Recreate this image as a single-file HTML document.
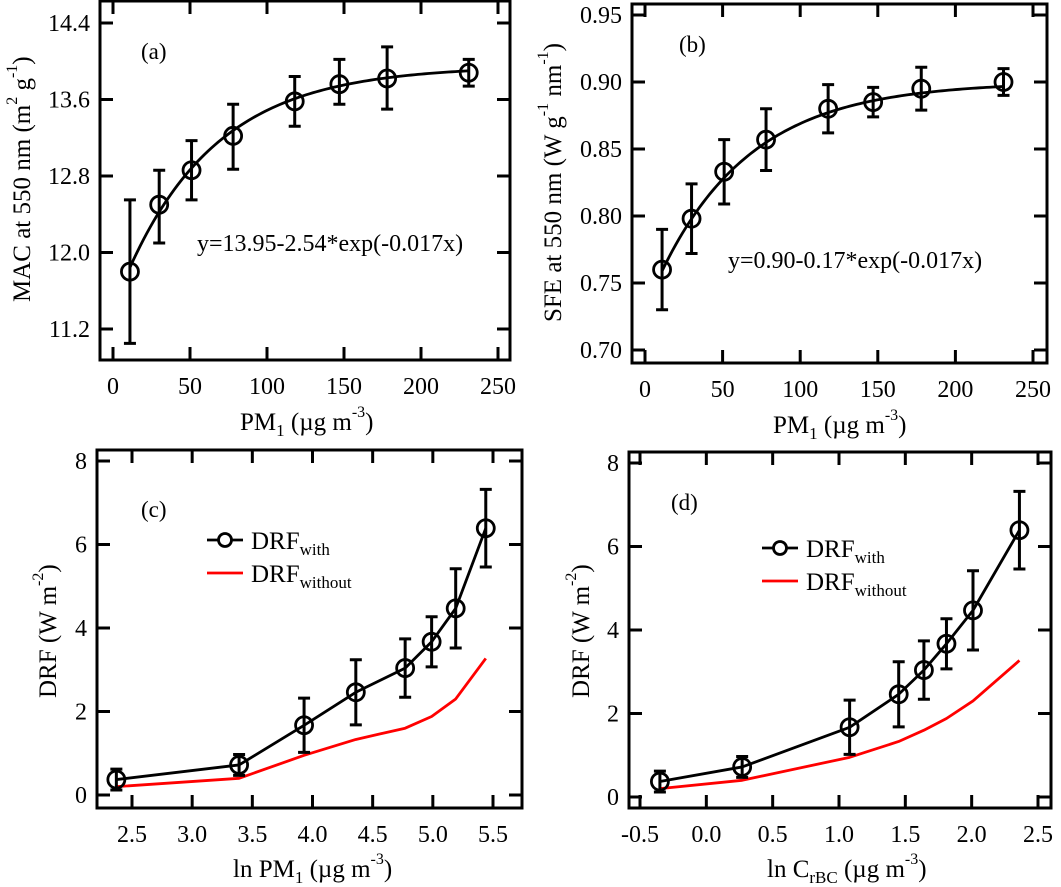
<!DOCTYPE html>
<html><head><meta charset="utf-8"><style>
html,body{margin:0;padding:0;background:#fff}
svg{display:block;font-family:"Liberation Serif",serif}
</style></head><body>
<svg id="fig" width="1061" height="887" viewBox="0 0 1061 887"></svg>
<script>
// Panel (a)
const aX=[11,30,51,78,118,147,178,231];
const aY=[11.80,12.50,12.86,13.22,13.58,13.76,13.82,13.88];
const aHi=[12.55,12.86,13.17,13.55,13.84,14.02,14.15,14.02];
const aLo=[11.05,12.10,12.55,12.87,13.32,13.55,13.50,13.74];
const aFit=[13.95,2.54,0.017];
const aXTicks=[0,50,100,150,200,250];
const aYTicks=[11.2,12.0,12.8,13.6,14.4];
// Panel (b)
const bX=[11,30,51,78,118,147,178,231];
const bY=[0.760,0.798,0.833,0.857,0.880,0.885,0.895,0.900];
const bErr=[0.030,0.026,0.024,0.023,0.018,0.011,0.016,0.010];
const bFit=[0.90,0.17,0.017];
const bXTicks=[0,50,100,150,200,250];
const bYTicks=[0.70,0.75,0.80,0.85,0.90,0.95];
// Panel (c)
const cX=[2.37,3.39,3.93,4.36,4.77,4.99,5.19,5.44];
const cWith=[0.37,0.72,1.67,2.46,3.04,3.67,4.47,6.39];
const cErr=[0.25,0.25,0.65,0.78,0.70,0.60,0.95,0.93];
const cWithout=[0.20,0.40,0.95,1.33,1.60,1.88,2.30,3.27];
const cXTicks=[2.5,3.0,3.5,4.0,4.5,5.0,5.5];
const cYTicks=[0,2,4,6,8];
// Panel (d)
const dX=[-0.35,0.27,1.08,1.45,1.64,1.81,2.01,2.36];
const dWith=[0.37,0.72,1.67,2.46,3.04,3.67,4.47,6.39];
const dErr=[0.25,0.25,0.65,0.78,0.70,0.60,0.95,0.93];
const dWithout=[0.20,0.40,0.95,1.33,1.60,1.88,2.30,3.27];
const dXTicks=[-0.5,0.0,0.5,1.0,1.5,2.0,2.5];
const dYTicks=[0,2,4,6,8];

const NS="http://www.w3.org/2000/svg";
const svg=document.getElementById('fig');
function el(tag,attrs,parent){const e=document.createElementNS(NS,tag);for(const k in attrs)e.setAttribute(k,attrs[k]);(parent||svg).appendChild(e);return e;}
function lin(d0,d1,r0,r1){return v=>r0+(v-d0)*(r1-r0)/(d1-d0);}

function panel(cfg){
  const g=el('g',{});
  
  
  const sx=lin(cfg.xd[0],cfg.xd[1],cfg.xr[0],cfg.xr[1]);
  const sy=lin(cfg.yd[0],cfg.yd[1],cfg.yr[0],cfg.yr[1]);
  const f=cfg.frame;
  const fr=el('rect',{x:f[0],y:f[1],width:f[2]-f[0],height:f[3]-f[1],fill:'none',stroke:'#000','stroke-width':3},g);
  
  
  cfg.xt.forEach(t=>{
    const x=sx(t);
    el('line',{x1:x,x2:x,y1:f[1],y2:f[1]+13,stroke:'#000','stroke-width':3},g);
    el('line',{x1:x,x2:x,y1:f[3],y2:f[3]-13,stroke:'#000','stroke-width':3},g);
    const tx=el('text',{x:x,y:f[3]+34,'font-size':24,'text-anchor':'middle'},g);
    tx.textContent=cfg.xfmt(t);
    
    
  });
  cfg.yt.forEach(t=>{
    const y=sy(t);
    el('line',{x1:f[0],x2:f[0]+13,y1:y,y2:y,stroke:'#000','stroke-width':3},g);
    el('line',{x1:f[2],x2:f[2]-13,y1:y,y2:y,stroke:'#000','stroke-width':3},g);
    const ty=el('text',{x:f[0]-10,y:y+8,'font-size':24,'text-anchor':'end'},g);
    ty.textContent=cfg.yfmt(t);
    
    
  });
  return {g,sx,sy};
}
function errbars(p,xs,ys,lo,hi,cap){
  xs.forEach((x,i)=>{
    const X=p.sx(x),Y1=p.sy(lo[i]),Y2=p.sy(hi[i]);
    const e=el('path',{d:`M${X},${Y1}V${Y2}M${X-cap},${Y1}H${X+cap}M${X-cap},${Y2}H${X+cap}`,stroke:'#000','stroke-width':3,fill:'none'},p.g);
    
    
  });
}
function markers(p,xs,ys){
  xs.forEach((x,i)=>{
    const c=el('circle',{cx:p.sx(x),cy:p.sy(ys[i]),r:8.5,fill:'none',stroke:'#000','stroke-width':2.8},p.g);
    
    
  });
}
function polyline(p,xs,ys,color,w,name){
  const pl=el('polyline',{points:xs.map((x,i)=>p.sx(x)+','+p.sy(ys[i])).join(' '),fill:'none',stroke:color,'stroke-width':w,'stroke-linejoin':'round'},p.g);
  
  
}
function fitcurve(p,xs,par){
  const pts=[];const x0=xs[0],x1=xs[xs.length-1];
  for(let k=0;k<=100;k++){const x=x0+(x1-x0)*k/100;pts.push(p.sx(x)+','+p.sy(par[0]-par[1]*Math.exp(-par[2]*x)));}
  const pl=el('polyline',{points:pts.join(' '),fill:'none',stroke:'#000','stroke-width':2.8},p.g);
  
  
}
function text(p,x,y,html,size,attrs,name,rot){
  const t=el('text',Object.assign({x:x,y:y,'font-size':size},attrs||{}),p.g);
  if(rot)t.setAttribute('transform',`rotate(-90 ${x} ${y})`);
  t.innerHTML=html;
  
  
  return t;
}
function legend(p,x,y){
  const g=el('g',{},p.g);
  
  
  el('line',{x1:x,x2:x+36,y1:y,y2:y,stroke:'#000','stroke-width':2.8},g);
  el('circle',{cx:x+18,cy:y,r:6.5,fill:'#fff',stroke:'#000','stroke-width':2.8},g);
  const t1=el('text',{x:x+44,y:y+9,'font-size':25},g);
  t1.innerHTML='DRF<tspan font-size="17" dy="6">with</tspan>';
  
  
  el('line',{x1:x,x2:x+36,y1:y+33,y2:y+33,stroke:'#f00','stroke-width':2.8},g);
  const t2=el('text',{x:x+44,y:y+42,'font-size':25},g);
  t2.innerHTML='DRF<tspan font-size="17" dy="6">without</tspan>';
  
  
}

// (a)
const pa=panel({name:'panel-a',frame:[100,1,510,360],xd:[0,250],xr:[113,498],yd:[11.2,14.4],yr:[329,23],xt:aXTicks,yt:aYTicks,xfmt:v=>String(v),yfmt:v=>v.toFixed(1)});
errbars(pa,aX,aY,aLo,aHi,6);fitcurve(pa,aX,aFit);markers(pa,aX,aY);
text(pa,141,59,'(a)',23,{},'panel-label-a');
text(pa,197,251,'y=13.95-2.54*exp(-0.017x)',24,{},'fit-equation-a');
text(pa,30,302,'MAC at 550 nm (m<tspan font-size="16" dy="-13">2</tspan><tspan dy="13"> g</tspan><tspan font-size="16" dy="-13">-1</tspan><tspan dy="13">)</tspan>',25,{},'y-axis-title-a',true);
text(pa,240,430,'PM<tspan font-size="17" dy="6">1</tspan><tspan dy="-6"> (µg m</tspan><tspan font-size="16" dy="-13">-3</tspan><tspan dy="13">)</tspan>',25,{},'x-axis-title-a');
// (b)
const bLo=bY.map((v,i)=>v-bErr[i]),bHi=bY.map((v,i)=>v+bErr[i]);
const pb=panel({name:'panel-b',frame:[632,4,1047,363],xd:[0,250],xr:[645,1033],yd:[0.70,0.95],yr:[350,15],xt:bXTicks,yt:bYTicks,xfmt:v=>String(v),yfmt:v=>v.toFixed(2)});
errbars(pb,bX,bY,bLo,bHi,6);fitcurve(pb,bX,bFit);markers(pb,bX,bY);
text(pb,679,52,'(b)',23,{},'panel-label-b');
text(pb,728,268,'y=0.90-0.17*exp(-0.017x)',24,{},'fit-equation-b');
text(pb,561,322,'SFE at 550 nm (W g<tspan font-size="16" dy="-13">-1</tspan><tspan dy="13"> nm</tspan><tspan font-size="16" dy="-13">-1</tspan><tspan dy="13">)</tspan>',25,{},'y-axis-title-b',true);
text(pb,773,433,'PM<tspan font-size="17" dy="6">1</tspan><tspan dy="-6">  (µg m</tspan><tspan font-size="16" dy="-13">-3</tspan><tspan dy="13">)</tspan>',25,{},'x-axis-title-b');
// (c)
const pc=panel({name:'panel-c',frame:[97,450,522,808],xd:[2.5,5.5],xr:[132,493],yd:[0,8],yr:[795,461],xt:cXTicks,yt:cYTicks,xfmt:v=>v.toFixed(1),yfmt:v=>String(v)});
polyline(pc,cX,cWithout,'#f00',2.8,'drf-without-line');
errbars(pc,cX,cWith,cWith.map((v,i)=>v-cErr[i]),cWith.map((v,i)=>v+cErr[i]),6);
polyline(pc,cX,cWith,'#000',2.8,'drf-with-line');markers(pc,cX,cWith);
text(pc,141,517,'(c)',23,{},'panel-label-c');
legend(pc,207,540);
text(pc,56,698,'DRF (W m<tspan font-size="16" dy="-13">-2</tspan><tspan dy="13">)</tspan>',25,{},'y-axis-title-c',true);
text(pc,233,877,'ln PM<tspan font-size="17" dy="6">1</tspan><tspan dy="-6">  (µg m</tspan><tspan font-size="16" dy="-13">-3</tspan><tspan dy="13">)</tspan>',25,{},'x-axis-title-c');
// (d)
const pd=panel({name:'panel-d',frame:[629,452,1051,808],xd:[-0.5,2.5],xr:[640,1038],yd:[0,8],yr:[797,463],xt:dXTicks,yt:dYTicks,xfmt:v=>v.toFixed(1),yfmt:v=>String(v)});
polyline(pd,dX,dWithout,'#f00',2.8,'drf-without-line');
errbars(pd,dX,dWith,dWith.map((v,i)=>v-dErr[i]),dWith.map((v,i)=>v+dErr[i]),6);
polyline(pd,dX,dWith,'#000',2.8,'drf-with-line');markers(pd,dX,dWith);
text(pd,671,510,'(d)',23,{},'panel-label-d');
legend(pd,762,548);
text(pd,589,698,'DRF (W m<tspan font-size="16" dy="-13">-2</tspan><tspan dy="13">)</tspan>',25,{},'y-axis-title-d',true);
text(pd,767,877,'ln C<tspan font-size="17" dy="6">rBC</tspan><tspan dy="-6"> (µg m</tspan><tspan font-size="16" dy="-13">-3</tspan><tspan dy="13">)</tspan>',25,{},'x-axis-title-d');
</script>
</body></html>
